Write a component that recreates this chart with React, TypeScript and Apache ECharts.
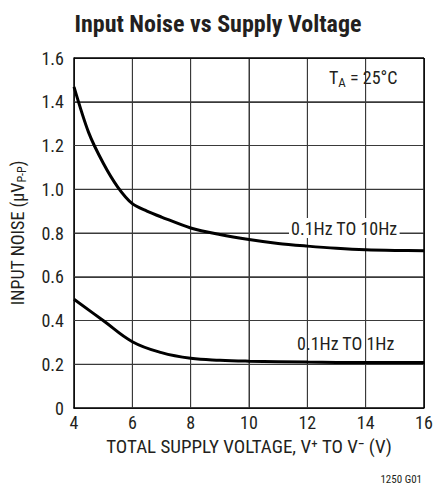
import React, { useEffect, useRef } from "react";
import * as echarts from "echarts";

const xTicks = [4, 6, 8, 10, 12, 14, 16];
const yTicks = [0, 0.2, 0.4, 0.6, 0.8, 1.0, 1.2, 1.4, 1.6];
const voltage10 = [4, 4.5, 5, 5.5, 6, 6.5, 7, 8, 9, 10, 11, 12, 13, 14, 15, 16];
const noise10 = [1.468, 1.26, 1.12, 1.01, 0.934, 0.9, 0.873, 0.823, 0.793, 0.77, 0.752, 0.74, 0.73, 0.723, 0.72, 0.719];
const voltage1 = [4, 5, 6, 7, 8, 9, 10, 12, 14, 16];
const noise1 = [0.497, 0.4, 0.303, 0.253, 0.227, 0.218, 0.214, 0.21, 0.208, 0.208];
const seriesNames = ["0.1Hz TO 10Hz", "0.1Hz TO 1Hz"];

const FONT = "'Liberation Sans Narrow', 'Roboto Condensed', 'Liberation Sans', Arial, sans-serif";
const TXT = "#231f20";

export default function App() {
  const ref = useRef<HTMLDivElement>(null);
  useEffect(() => {
    document.body.style.margin = "0";
    const chart = echarts.init(ref.current!, null, { renderer: "svg" });
    const xMin = xTicks[0];
    const xMax = xTicks[xTicks.length - 1];
    const yMin = yTicks[0];
    const yMax = yTicks[yTicks.length - 1];
    const texts = [
      {
        type: "text",
        left: 289,
        top: 218,
        z: 30,
        style: {
          text: seriesNames[0],
          font: `18px ${FONT}`,
          fill: TXT,
          backgroundColor: "#fff",
          padding: [1, 2, 1, 2],
        },
      },
      {
        type: "text",
        left: 297,
        top: 334,
        z: 30,
        style: { text: seriesNames[1], font: `18px ${FONT}`, fill: TXT },
      },
      {
        type: "text",
        left: 329,
        top: 68,
        z: 30,
        style: {
          rich: {
            a: { fontSize: 18, fontFamily: FONT, fill: TXT },
            s: { fontSize: 13, fontFamily: FONT, fill: TXT, padding: [10, 0, 0, 0] },
          },
          text: "{a|T}{s|A}{a| = 25\u00B0C}",
          fill: TXT,
        },
      },
      {
        type: "text",
        right: 14,
        top: 474,
        style: { text: "1250 G01", font: `11px ${FONT}`, fill: TXT },
      },
    ];
    chart.setOption({
      animation: false,
      title: {
        text: "Input Noise vs Supply Voltage",
        left: "center",
        top: 7,
        textStyle: { fontFamily: FONT, fontWeight: "bold", fontSize: 24, color: TXT },
      },
      grid: { left: 74, right: 12, top: 58, bottom: 84 },
      xAxis: {
        type: "value",
        min: xMin,
        max: xMax,
        interval: 2,
        axisLine: { show: true, lineStyle: { color: "#000", width: 1.5 } },
        axisTick: { show: false },
        axisLabel: {
          fontSize: 18,
          color: TXT,
          fontFamily: FONT,
          margin: 5,
          formatter: (v: number) => (xTicks.includes(v) ? String(v) : ""),
        },
        splitLine: { show: true, lineStyle: { color: "#3a3a3a", width: 1 } },
        name: "TOTAL SUPPLY VOLTAGE, V\u207A TO V\u207B (V)",
        nameLocation: "middle",
        nameGap: 29,
        nameTextStyle: { fontSize: 19, color: TXT, fontFamily: FONT },
      },
      yAxis: {
        type: "value",
        min: yMin,
        max: yMax,
        interval: 0.2,
        axisLine: { show: true, lineStyle: { color: "#000", width: 1.5 } },
        axisTick: { show: false },
        axisLabel: {
          fontSize: 18,
          color: TXT,
          fontFamily: FONT,
          margin: 10,
          formatter: (v: number) => {
            const t = yTicks.find((y) => Math.abs(y - v) < 1e-6);
            if (t === undefined) return "";
            if (t === 0) return "0";
            return t.toFixed(1);
          },
        },
        splitLine: { show: true, lineStyle: { color: "#3a3a3a", width: 1 } },
        name: "{a|INPUT NOISE (\u00B5V}{s|P-P}{a|)}",
        nameLocation: "middle",
        nameGap: 46,
        nameTextStyle: {
          rich: {
            a: { fontSize: 18, color: TXT, fontFamily: FONT },
            s: { fontSize: 12, color: TXT, fontFamily: FONT, padding: [9, 0, 0, 0] },
          },
        },
      },
      series: [
        {
          name: seriesNames[0],
          type: "line",
          smooth: 0.3,
          symbol: "none",
          lineStyle: { color: "#000", width: 3 },
          data: voltage10.map((v, i) => [v, noise10[i]]),
          z: 5,
        },
        {
          name: seriesNames[1],
          type: "line",
          smooth: 0.4,
          symbol: "none",
          lineStyle: { color: "#000", width: 3 },
          data: voltage1.map((v, i) => [v, noise1[i]]),
          z: 5,
        },
      ],
      graphic: texts,
    });

    // Gridlines as graphic lines, positioned through the chart's own scales.
    const lines: any[] = [];
    const toPx = (pt: number[]) => chart.convertToPixel({ gridIndex: 0 }, pt) as number[];
    xTicks.slice(1).forEach((x) => {
      const a = toPx([x, yMin]);
      const b = toPx([x, yMax]);
      const border = x === xMax;
      lines.push({
        type: "line",
        z: 1,
        silent: true,
        shape: { x1: a[0], y1: a[1], x2: b[0], y2: b[1] },
        style: { stroke: border ? "#000" : "#3a3a3a", lineWidth: border ? 1.5 : 1 },
      });
    });
    yTicks.slice(1).forEach((y) => {
      const a = toPx([xMin, y]);
      const b = toPx([xMax, y]);
      const border = Math.abs(y - yMax) < 1e-6;
      lines.push({
        type: "line",
        z: 1,
        silent: true,
        shape: { x1: a[0], y1: a[1], x2: b[0], y2: b[1] },
        style: { stroke: border ? "#000" : "#3a3a3a", lineWidth: border ? 1.5 : 1 },
      });
    });
    chart.setOption({ graphic: [...texts, ...lines] });

    return () => chart.dispose();
  }, []);
  return <div ref={ref} style={{ width: 436, height: 492 }} />;
}
